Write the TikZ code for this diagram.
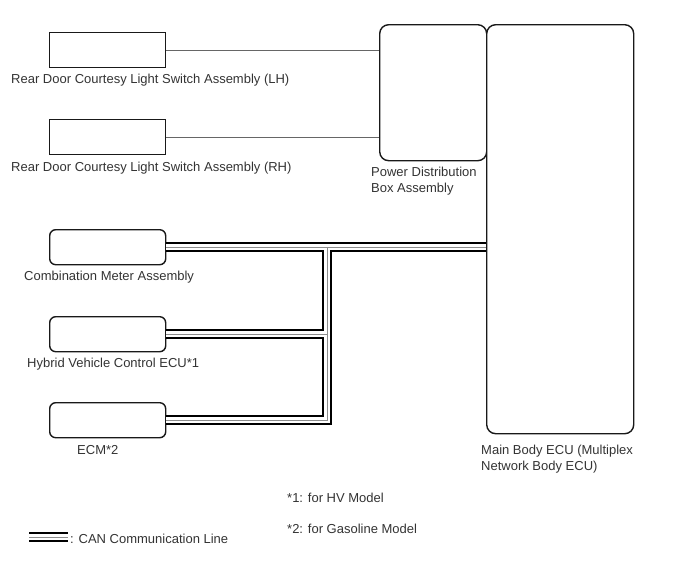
\documentclass[tikz,border=0pt]{standalone}
\usepackage{fontspec}
\setmainfont{Liberation Sans}
\begin{document}
\begin{tikzpicture}[x=1pt,y=-1pt,
 box/.style={draw=black!90,line width=1.4pt,fill=white,inner sep=0,anchor=north west},
 sbox/.style={box,minimum width=116pt,minimum height=35pt},
 rbox/.style={sbox,rounded corners=6pt},
 bbox/.style={box,rounded corners=9pt},
 lbl/.style={font=\fontsize{13}{16}\selectfont,text=black!80,inner sep=0,anchor=west,align=left,yshift=-1.5pt},
 wire/.style={draw=black!60,line width=0.8pt},
 canb/.style={line width=10pt,black},
 canw/.style={line width=5.6pt,white},
 cang/.style={line width=0.9pt,black!45}]
\useasboundingbox (0,0) rectangle (688,560);
% boxes
\node[sbox] (lh) at (49,32) {};
\node[sbox] (rh) at (49,119) {};
\node[bbox,minimum width=107pt,minimum height=136pt] (pdb) at (379,24) {};
\node[bbox,minimum width=147pt,minimum height=409pt] (ecu) at (486,24) {};
\node[rbox] (meter) at (49,229) {};
\node[rbox] (hyb) at (49,316) {};
\node[rbox] (ecm) at (49,402) {};
% labels
\node[lbl] (tlh) at (11,79) {Rear Door Courtesy Light Switch Assembly (LH)};
\node[lbl] (trh) at (11,167) {Rear Door Courtesy Light Switch Assembly (RH)};
\node[lbl] (tpdb) at (371,180) {Power Distribution\\Box Assembly};
\node[lbl] (tecu) at (481,458) {Main Body ECU (Multiplex\\Network Body ECU)};
\node[lbl] (tmeter) at (24,276) {Combination Meter Assembly};
\node[lbl] (thyb) at (27,363) {Hybrid Vehicle Control ECU*1};
\node[lbl] (tecm) at (77,449) {ECM*2};
\node[lbl] (n1) at (287,496) {*1: for HV Model};
\node[lbl] (n2) at (287,527) {*2: for Gasoline Model};
% wires
\draw[wire] (lh.east) -- (lh.east -| pdb.west);
\draw[wire] (rh.east) -- (rh.east -| pdb.west);
% CAN bus
\coordinate (jx) at (327,0);
\coordinate (lg1) at (29,537);
\coordinate (lg2) at (68,537);
\foreach \s in {canb,canw,cang}{
  \draw[\s] (meter.east) -- (meter.east -| ecu.west);
  \draw[\s] (meter.east -| jx) |- (ecm.east);
  \draw[\s] (hyb.east -| jx) -- (hyb.east);
  \draw[\s] (lg1) -- (lg2);
}
\node[lbl] (tlg) at (70,537) {: CAN Communication Line};
\end{tikzpicture}
\end{document}
